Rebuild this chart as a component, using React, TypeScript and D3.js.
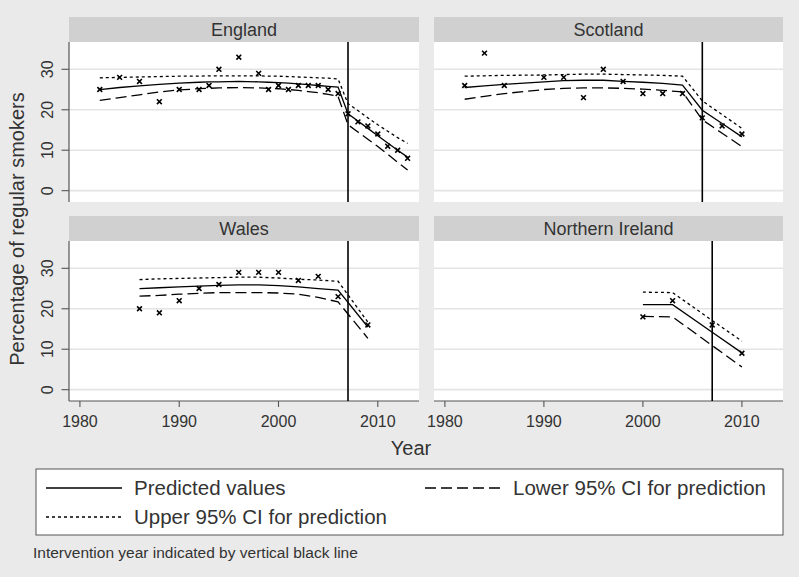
import React from "react";
import * as d3 from "d3";

// ---------- data ----------
const countries = ["England", "Scotland", "Wales", "Northern Ireland"];
const interventionYears = [2007, 2006, 2007, 2007];

const englandYears = [1982, 1984, 1986, 1988, 1990, 1992, 1993, 1994, 1996, 1998, 1999, 2000, 2001, 2002, 2003, 2004, 2005, 2006, 2007, 2008, 2009, 2010, 2011, 2012, 2013];
const englandObserved = [25, 28, 27, 22, 25, 25, 26, 30, 33, 29, 25, 26, 25, 26, 26, 26, 25, 24, 19, 17, 16, 14, 11, 10, 8];
const englandPredicted = [25.0, 25.5, 25.9, 26.3, 26.6, 26.8, 26.9, 26.9, 27.0, 26.9, 26.8, 26.7, 26.6, 26.4, 26.2, 26.0, 25.8, 25.6, 19.0, 17.2, 15.4, 13.6, 11.8, 10.0, 8.3];
const englandUpper = [27.9, 28.0, 28.1, 28.2, 28.3, 28.3, 28.4, 28.4, 28.4, 28.4, 28.3, 28.3, 28.2, 28.1, 28.0, 27.9, 27.8, 27.6, 21.5, 19.8, 18.0, 16.3, 14.7, 13.1, 11.7];
const englandLower = [22.3, 23.0, 23.7, 24.4, 24.9, 25.2, 25.3, 25.4, 25.5, 25.4, 25.3, 25.2, 25.0, 24.8, 24.5, 24.2, 23.8, 23.3, 16.3, 14.5, 12.7, 10.9, 9.0, 7.0, 5.1];

const scotlandYears = [1982, 1984, 1986, 1990, 1992, 1994, 1996, 1998, 2000, 2002, 2004, 2006, 2008, 2010];
const scotlandObserved = [26, 34, 26, 28, 28, 23, 30, 27, 24, 24, 24, 18, 16, 14];
const scotlandPredicted = [25.5, 25.9, 26.3, 26.9, 27.2, 27.3, 27.3, 27.0, 26.8, 26.5, 26.1, 19.9, 16.6, 13.3];
const scotlandUpper = [28.3, 28.4, 28.5, 28.6, 28.7, 28.8, 28.8, 28.7, 28.6, 28.5, 28.3, 22.2, 18.8, 15.4];
const scotlandLower = [22.6, 23.3, 24.0, 25.0, 25.3, 25.4, 25.4, 25.3, 25.1, 24.8, 24.4, 17.5, 14.2, 10.9];

const walesYears = [1986, 1988, 1990, 1992, 1994, 1996, 1998, 2000, 2002, 2004, 2006, 2009];
const walesObserved = [20, 19, 22, 25, 26, 29, 29, 29, 27, 28, 23, 16];
const walesPredicted = [25.0, 25.2, 25.4, 25.6, 25.8, 25.9, 25.9, 25.7, 25.4, 25.0, 24.6, 15.5];
const walesUpper = [27.2, 27.4, 27.5, 27.6, 27.7, 27.8, 27.8, 27.6, 27.3, 27.1, 26.8, 16.7];
const walesLower = [23.1, 23.3, 23.6, 23.8, 24.0, 24.0, 24.0, 23.9, 23.6, 22.8, 21.7, 12.7];

const niYears = [2000, 2003, 2007, 2010];
const niObserved = [18, 22, 16, 9];
const niPredicted = [21.0, 21.0, 14.2, 9.1];
const niUpper = [24.1, 24.0, 17.1, 12.0];
const niLower = [18.1, 18.0, 10.9, 5.6];

const yTicks = [0, 10, 20, 30];
const xTicks = [1980, 1990, 2000, 2010];

const legendLabels = ["Predicted values", "Lower 95% CI for prediction", "Upper 95% CI for prediction"];
const yTitle = "Percentage of regular smokers";
const xTitle = "Year";
const note = "Intervention year indicated by vertical black line";

// ---------- build ----------
const seriesSets = [
  { years: englandYears, obs: englandObserved, pred: englandPredicted, up: englandUpper, lo: englandLower },
  { years: scotlandYears, obs: scotlandObserved, pred: scotlandPredicted, up: scotlandUpper, lo: scotlandLower },
  { years: walesYears, obs: walesObserved, pred: walesPredicted, up: walesUpper, lo: walesLower },
  { years: niYears, obs: niObserved, pred: niPredicted, up: niUpper, lo: niLower },
];

const W = 799;
const H = 577;
const FONT = "'Liberation Sans', Arial, Helvetica, sans-serif";
const TEXT = "#333333";
const BG = "#EAEAEA";
const STRIP = "#D0D0D0";
const GRID = "#E4E4E4";
const AXIS = "#555555";

const colsX = [
  [69, 419],
  [434, 783],
];
const rows = [
  { stripTop: 17, plotTop: 42, plotBottom: 202 },
  { stripTop: 216, plotTop: 241, plotBottom: 401 },
];

const DASH_LOWER = "11,5";
const DASH_UPPER = "3,3";

function Panel({ idx }: { idx: number }) {
  const col = idx % 2;
  const row = Math.floor(idx / 2);
  const [x0, x1] = colsX[col];
  const r = rows[row];
  const x = d3.scaleLinear().domain([1978.9, 2014.15]).range([x0, x1]);
  const y = d3.scaleLinear().domain([-2.8, 36.75]).range([r.plotBottom, r.plotTop]);
  const s = seriesSets[idx];
  const mk = (vals: number[]) =>
    d3
      .line<number>()
      .x((_, i) => x(s.years[i]))
      .y((v) => y(v))(vals) as string;
  const iv = x(interventionYears[idx]);
  const ms = 2.4;
  return (
    <g>
      <rect x={x0} y={r.stripTop} width={x1 - x0} height={r.plotTop - r.stripTop} fill={STRIP} />
      <text
        x={(x0 + x1) / 2}
        y={r.stripTop + 19}
        textAnchor="middle"
        fontSize={18}
        fill={TEXT}
        fontFamily={FONT}
      >
        {countries[idx]}
      </text>
      <rect x={x0} y={r.plotTop} width={x1 - x0} height={r.plotBottom - r.plotTop} fill="#FFFFFF" />
      {yTicks.map((t) => (
        <line key={t} x1={x0} x2={x1} y1={y(t)} y2={y(t)} stroke={GRID} strokeWidth={1.6} />
      ))}
      {/* axes */}
      {col === 0 && (
        <g>
          <line x1={x0} x2={x0} y1={r.plotTop} y2={r.plotBottom} stroke={AXIS} strokeWidth={1.2} />
          {yTicks.map((t) => (
            <g key={t}>
              <line x1={x0 - 7.5} x2={x0} y1={y(t)} y2={y(t)} stroke={AXIS} strokeWidth={1.1} />
              <text
                transform={`translate(${x0 - 16},${y(t)}) rotate(-90)`}
                textAnchor="middle"
                fontSize={16}
                fill={TEXT}
                fontFamily={FONT}
              >
                {t}
              </text>
            </g>
          ))}
        </g>
      )}
      {row === 1 && (
        <g>
          <line x1={x0} x2={x1} y1={r.plotBottom} y2={r.plotBottom} stroke={AXIS} strokeWidth={1.2} />
          {xTicks.map((t) => (
            <g key={t}>
              <line x1={x(t)} x2={x(t)} y1={r.plotBottom} y2={r.plotBottom + 6} stroke={AXIS} strokeWidth={1.1} />
              <text x={x(t)} y={r.plotBottom + 26} textAnchor="middle" fontSize={16} fill={TEXT} fontFamily={FONT}>
                {t}
              </text>
            </g>
          ))}
        </g>
      )}
      {/* series */}
      <path d={mk(s.up)} fill="none" stroke="#000" strokeWidth={1.3} strokeDasharray={DASH_UPPER} />
      <path d={mk(s.lo)} fill="none" stroke="#000" strokeWidth={1.3} strokeDasharray={DASH_LOWER} />
      <path d={mk(s.pred)} fill="none" stroke="#000" strokeWidth={1.3} />
      {s.obs.map((v, i) => {
        const cx = x(s.years[i]);
        const cy = y(v);
        return (
          <path
            key={i}
            d={`M${cx - ms},${cy - ms}L${cx + ms},${cy + ms}M${cx - ms},${cy + ms}L${cx + ms},${cy - ms}`}
            stroke="#000"
            strokeWidth={1.6}
          />
        );
      })}
      <line x1={iv} x2={iv} y1={r.plotTop} y2={r.plotBottom} stroke="#000" strokeWidth={1.6} />
    </g>
  );
}

export default function App() {
  return (
    <div style={{ position: "fixed", left: 0, top: 0 }}>
      <svg width={W} height={H} style={{ display: "block" }}>
        <rect x={0} y={0} width={W} height={H} fill={BG} />
        {[0, 1, 2, 3].map((i) => (
          <Panel key={i} idx={i} />
        ))}
        <text
          transform="translate(24,229) rotate(-90)"
          textAnchor="middle"
          fontSize={20}
          fill={TEXT}
          fontFamily={FONT}
        >
          {yTitle}
        </text>
        <text x={411} y={455} textAnchor="middle" fontSize={20} fill={TEXT} fontFamily={FONT}>
          {xTitle}
        </text>
        {/* legend */}
        <rect x={36} y={469} width={747} height={66} fill="#FFFFFF" stroke={AXIS} strokeWidth={1} />
        <line x1={46} x2={122} y1={488} y2={488} stroke="#000" strokeWidth={1.4} />
        <text x={134} y={495} fontSize={20.5} fill={TEXT} fontFamily={FONT}>
          {legendLabels[0]}
        </text>
        <line x1={425} x2={501} y1={488} y2={488} stroke="#000" strokeWidth={1.4} strokeDasharray={DASH_LOWER} />
        <text x={513} y={495} fontSize={20.5} fill={TEXT} fontFamily={FONT}>
          {legendLabels[1]}
        </text>
        <line x1={46} x2={122} y1={517} y2={517} stroke="#000" strokeWidth={1.4} strokeDasharray={DASH_UPPER} />
        <text x={134} y={524} fontSize={20.5} fill={TEXT} fontFamily={FONT}>
          {legendLabels[2]}
        </text>
        <text x={33} y={558} fontSize={15.5} fill={TEXT} fontFamily={FONT}>
          {note}
        </text>
      </svg>
    </div>
  );
}
